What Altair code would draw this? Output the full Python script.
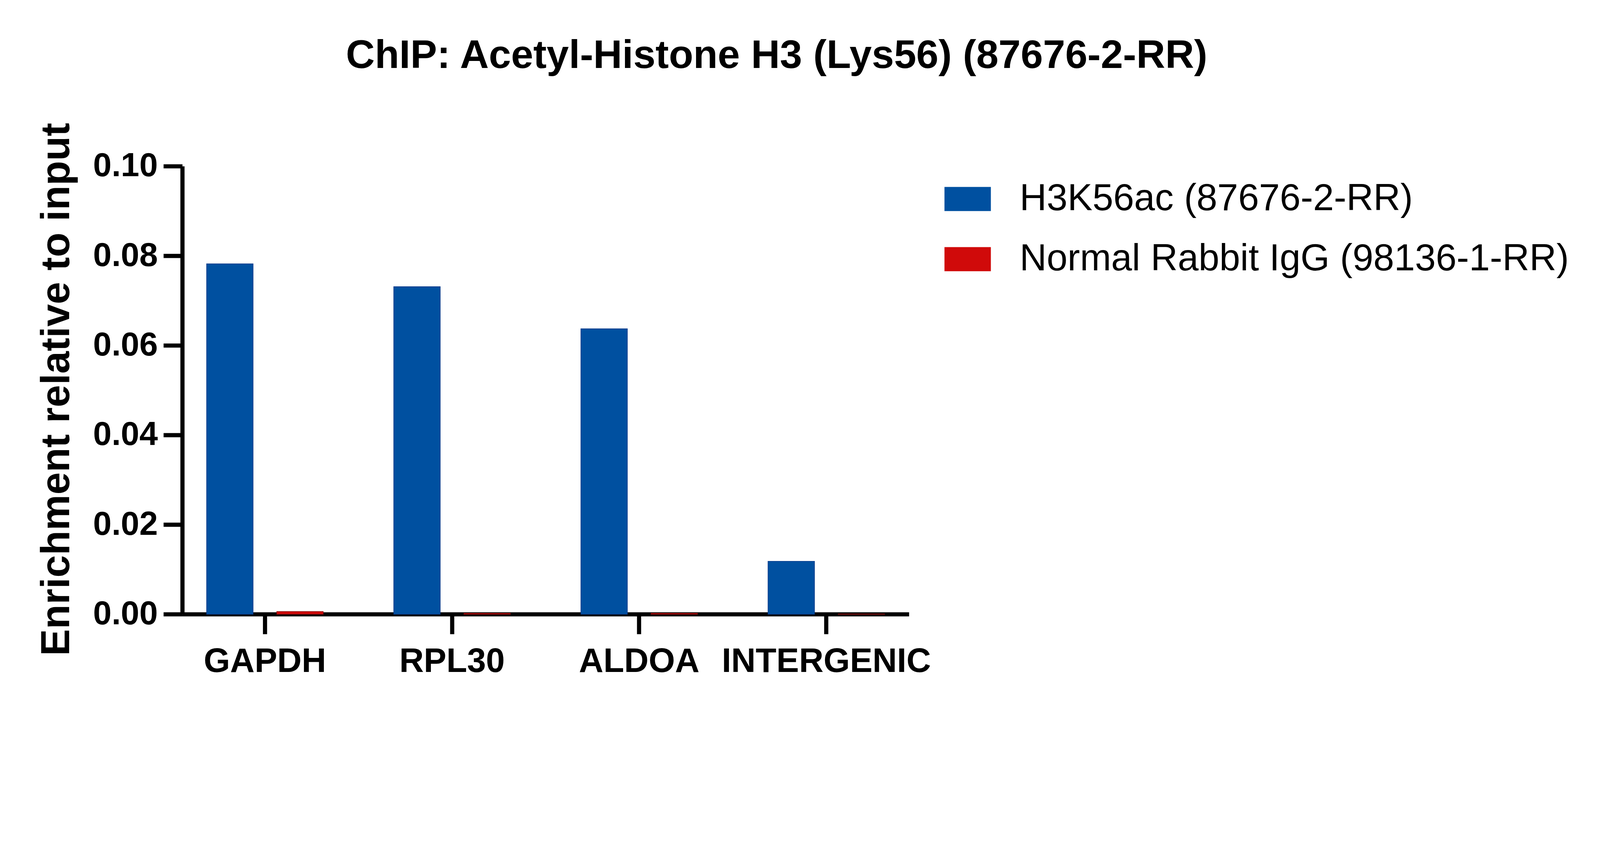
import altair as alt
import pandas as pd

genes = ["GAPDH", "RPL30", "ALDOA", "INTERGENIC"]
series = ["H3K56ac (87676-2-RR)", "Normal Rabbit IgG (98136-1-RR)"]
h3k56ac = [0.0782, 0.0731, 0.0637, 0.0118]
igg = [0.0006, 0.0002, 0.0002, 0.00005]
y_ticks = [0.0, 0.02, 0.04, 0.06, 0.08, 0.10]
colors = ["#0050A0", "#D00A0A"]
strokes = ["#0A3C8C", "#8A0A0A"]

rows = []
for g, a, b in zip(genes, h3k56ac, igg):
    rows.append({"gene": g, "series": series[0], "value": a})
    rows.append({"gene": g, "series": series[1], "value": b})
df = pd.DataFrame(rows)

FONT = "Liberation Sans"

chart = alt.Chart(df).mark_bar(strokeWidth=2).encode(
    x=alt.X(
        "gene:N",
        sort=genes,
        title=None,
        scale=alt.Scale(paddingInner=0.377, paddingOuter=0.13),
        axis=alt.Axis(
            labelAngle=0,
            labelFont=FONT,
            labelFontSize=106,
            labelFontWeight="bold",
            labelColor="black",
            labelPadding=34,
            labelLimit=2000,
            tickSize=62,
            tickWidth=13,
            tickColor="black",
            domainWidth=13,
            domainColor="black",
            grid=False,
        ),
    ),
    xOffset=alt.XOffset(
        "series:N", sort=series, scale=alt.Scale(paddingInner=0.338, paddingOuter=0)
    ),
    y=alt.Y(
        "value:Q",
        title="Enrichment relative to input",
        scale=alt.Scale(domain=[0, 0.1], nice=False),
        axis=alt.Axis(
            values=y_ticks,
            format=".2f",
            labelFont=FONT,
            labelFontSize=104,
            labelFontWeight="bold",
            labelColor="black",
            labelPadding=18,
            labelLimit=2000,
            tickSize=59,
            tickWidth=13,
            tickColor="black",
            domainWidth=13,
            domainColor="black",
            grid=False,
            titleFont=FONT,
            titleFontSize=126,
            titleFontWeight="bold",
            titleColor="black",
            titleX=-328,
            titleY=697,
            titleLimit=4000,
        ),
    ),
    color=alt.Color(
        "series:N",
        sort=series,
        scale=alt.Scale(domain=series, range=colors),
        legend=alt.Legend(
            title=None,
            orient="none",
            legendX=2382,
            legendY=30,
            padding=0,
            symbolType="M-1,-0.52L1,-0.52L1,0.52L-1,0.52Z",
            symbolSize=21025,
            symbolStrokeWidth=0,
            labelFont=FONT,
            labelFontSize=117,
            labelColor="black",
            labelOffset=90,
            rowPadding=57,
            labelLimit=3000,
        ),
    ),
    stroke=alt.Stroke(
        "series:N", sort=series, scale=alt.Scale(domain=series, range=strokes), legend=None
    ),
).properties(
    width=2271,
    height=1400,
    padding={"left": 560, "top": 292, "right": 2150, "bottom": 278},
    autosize=alt.AutoSizeParams(type="none"),
    title=alt.TitleParams(
        "ChIP: Acetyl-Histone H3 (Lys56) (87676-2-RR)",
        font=FONT,
        fontSize=125,
        fontWeight="bold",
        color="black",
        anchor="middle",
        frame="group",
        dx=722,
        offset=145,
    ),
).configure(background="white").configure_view(stroke=None)

chart.save("out.html", embed_options={"renderer": "svg", "actions": False})
